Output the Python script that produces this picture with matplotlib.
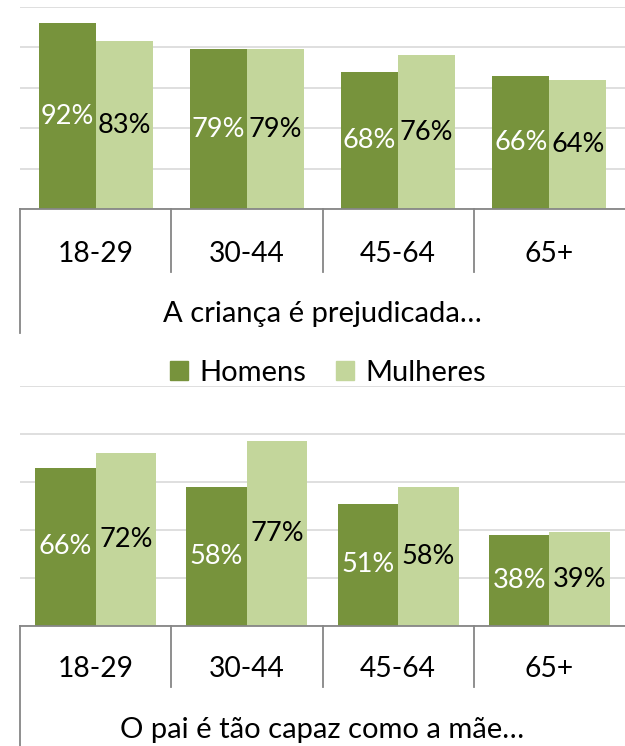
import matplotlib
matplotlib.use("Agg")
import matplotlib.pyplot as plt
import matplotlib.transforms as mtransforms
import numpy as np

plt.rcParams["font.family"] = ["Lato", "DejaVu Sans"]

age_groups = ["18-29", "30-44", "45-64", "65+"]
series_names = ["Homens", "Mulheres"]

harmed_men = [92, 79, 68, 66]
harmed_women = [83, 79, 76, 64]
harmed_title = "A criança é prejudicada…"

capable_men = [66, 58, 51, 38]
capable_women = [72, 77, 58, 39]
capable_title = "O pai é tão capaz como a mãe…"

DARK = "#77933C"
LIGHT = "#C3D69B"
GRID = "#D9D9D9"
AXIS = "#868686"
FS_VAL = 19.5
FS_TICK = 20.3
FS_TEXT = 21

W, H = 625, 746


def fy(px):
    return 1 - px / H


def draw_panel(fig, ax, men, women, title, bar_w, base_px, sep_px, tick_px, left_px, title_px):
    x = np.arange(len(age_groups))
    b1 = ax.bar(x - bar_w / 2, men, bar_w, color=DARK, zorder=3)
    b2 = ax.bar(x + bar_w / 2, women, bar_w, color=LIGHT, zorder=3)
    ax.bar_label(b1, labels=[f"{v}%" for v in men], label_type="center",
                 color="white", fontsize=FS_VAL)
    ax.bar_label(b2, labels=[f"{v}%" for v in women], label_type="center",
                 color="black", fontsize=FS_VAL)

    ax.set_xlim(-0.5, len(age_groups) - 0.5)
    ax.set_ylim(0, 100)
    ax.set_yticks(np.arange(0, 101, 20))
    ax.yaxis.grid(True, color=GRID, linewidth=1.2, zorder=0)
    ax.set_axisbelow(True)
    for side in ["top", "right", "left"]:
        ax.spines[side].set_visible(False)
    ax.spines["bottom"].set_color(AXIS)
    ax.spines["bottom"].set_linewidth(1.3)
    ax.spines["bottom"].set_zorder(4)
    ax.tick_params(left=False, bottom=False, labelleft=False, labelbottom=False)

    # multi-level category axis drawn below the plot
    tr = mtransforms.blended_transform_factory(ax.transData, fig.transFigure)
    ax.plot([-0.5, -0.5], [fy(base_px), fy(left_px)], color=AXIS, lw=1.3,
            transform=tr, clip_on=False)
    for s in np.arange(0.5, len(age_groups) - 1):
        ax.plot([s, s], [fy(base_px), fy(sep_px)], color=AXIS, lw=1.3,
                transform=tr, clip_on=False)
    for i, lab in enumerate(age_groups):
        ax.text(i, fy(tick_px), lab, transform=tr, ha="center", va="baseline",
                fontsize=FS_TICK)
    ax.text(1.5, fy(title_px), title, transform=tr, ha="center", va="baseline",
            fontsize=FS_TEXT)


fig = plt.figure(figsize=(W / 100, H / 100), dpi=100)

ax1 = fig.add_axes([20 / W, fy(209), 605 / W, (209 - 7) / H])
draw_panel(fig, ax1, harmed_men, harmed_women, harmed_title, 0.377,
           209, 272, 262, 333, 322)

ax2 = fig.add_axes([20 / W, fy(626), 605 / W, (626 - 386) / H])
draw_panel(fig, ax2, capable_men, capable_women, capable_title, 0.40,
           626, 687, 677, 760, 738)

handles = [plt.Rectangle((0, 0), 1, 1, color=DARK),
           plt.Rectangle((0, 0), 1, 1, color=LIGHT)]
fig.legend(handles, series_names, loc="center", bbox_to_anchor=(328 / W, fy(373)),
           ncol=2, frameon=False, fontsize=FS_TEXT, handlelength=0.62,
           handleheight=0.62, handletextpad=0.4, columnspacing=1.0)

fig.savefig("out.png", dpi=100)
